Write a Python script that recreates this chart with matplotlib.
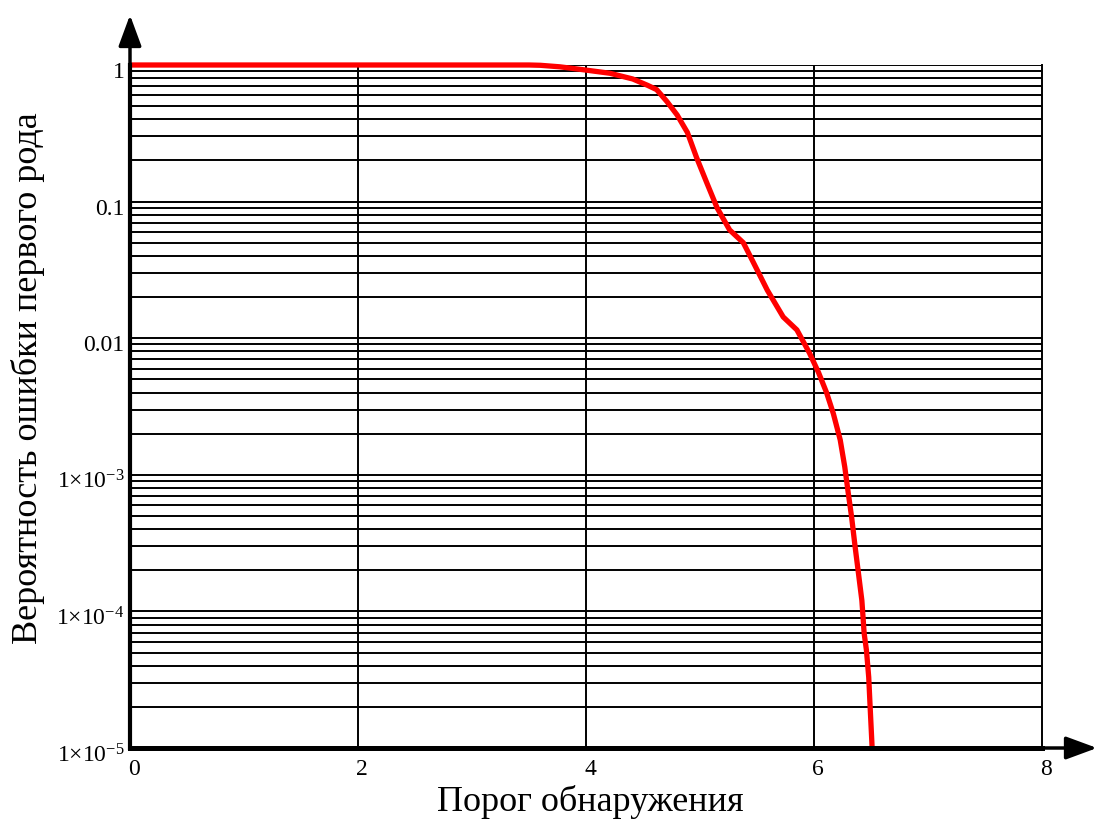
import matplotlib
matplotlib.use("Agg")
import matplotlib.pyplot as plt
from matplotlib.ticker import FixedLocator, FixedFormatter, NullFormatter
from matplotlib.transforms import ScaledTranslation

plt.rcParams['font.family'] = ['Liberation Serif', 'DejaVu Serif']
plt.rcParams['mathtext.fontset'] = 'custom'
plt.rcParams['mathtext.rm'] = 'Liberation Serif'
plt.rcParams['mathtext.it'] = 'Liberation Serif'

# Threshold vs. false-alarm probability
threshold = [0.0, 3.5, 3.6, 3.77, 3.99, 4.21, 4.41, 4.54, 4.62, 4.71, 4.80,
             4.89, 4.97, 5.06, 5.15, 5.26, 5.38, 5.46, 5.59, 5.73, 5.85, 5.96,
             6.04, 6.11, 6.17, 6.23, 6.27, 6.30, 6.33, 6.36, 6.39, 6.42, 6.44,
             6.46, 6.48, 6.49, 6.51]
p_false = [1.0, 1.0, 0.995, 0.97, 0.92, 0.87, 0.79, 0.71, 0.66, 0.54, 0.43,
           0.32, 0.21, 0.137, 0.090, 0.062, 0.050, 0.037, 0.0225, 0.0143, 0.0115,
           0.0078, 0.0056, 0.0040, 0.0028, 0.0018, 0.00114, 7.4e-4, 4.9e-4,
           3.0e-4, 1.9e-4, 1.2e-4, 6.9e-5, 5.2e-5, 3.3e-5, 2.2e-5, 1.0e-5]

xticks = [0, 2, 4, 6, 8]
xtick_labels = ['0', '2', '4', '6', '8']
yticks = [1e-5, 1e-4, 1e-3, 1e-2, 1e-1, 1]
ytick_labels = [r'$1{\times}10^{-5}$', r'$1{\times}10^{-4}$', r'$1{\times}10^{-3}$',
                '0.01', '0.1', '1']

W, H = 1099, 825
fig = plt.figure(figsize=(W / 100, H / 100), dpi=100)
ax = fig.add_axes([130 / W, 1 - 748 / H, (1042 - 130) / W, (748 - 65) / H])

ax.set_yscale('log')
ax.set_xlim(0, 8)
ax.set_ylim(1e-5, 1)

# horizontal grid at every 1..9 x 10^k
minor = [m * 10.0 ** k for k in range(-5, 0) for m in range(2, 10)]
hlines = minor + yticks[1:]
for v in hlines:
    ax.axhline(v, color='black', lw=1.4, zorder=1)
for v in xticks[1:-1]:
    ax.axvline(v, color='black', lw=1.4, zorder=1)

ax.plot(threshold, p_false, color='#ff0000', lw=3.8, zorder=3,
        solid_joinstyle='round', solid_capstyle='butt', clip_on=False)

ax.xaxis.set_major_locator(FixedLocator(xticks))
ax.xaxis.set_major_formatter(FixedFormatter(xtick_labels))
ax.yaxis.set_major_locator(FixedLocator(yticks))
ax.yaxis.set_major_formatter(FixedFormatter(ytick_labels))
ax.yaxis.set_minor_formatter(NullFormatter())
ax.tick_params(which='both', length=0, labelsize=17)
ax.tick_params(axis='x', pad=8)
ax.tick_params(axis='y', pad=4)

# nudge tick labels the way they sit beside the grid
for lbl in ax.get_yticklabels():
    lbl.set_transform(lbl.get_transform()
                      + ScaledTranslation(0, -5 / 100, fig.dpi_scale_trans))
for lbl in ax.get_xticklabels():
    lbl.set_transform(lbl.get_transform()
                      + ScaledTranslation(4 / 100, 0, fig.dpi_scale_trans))

ax.spines['top'].set_visible(False)
ax.spines['right'].set_linewidth(1.4)
ax.spines['left'].set_linewidth(3.0)
ax.spines['bottom'].set_linewidth(3.6)
ax.spines['left'].set_zorder(4)
ax.spines['bottom'].set_zorder(4)

# axis arrows
arrow = dict(arrowstyle='-|>,head_length=1.9,head_width=0.7',
             color='black', lw=2.5, shrinkA=0, shrinkB=0)
ax.annotate('', xy=(0, 1 + 50 / 683), xytext=(0, 0.99), xycoords='axes fraction',
            arrowprops=arrow)
ax.annotate('', xy=(1 + 55 / 912, 0), xytext=(0.99, 0), xycoords='axes fraction',
            arrowprops=arrow)

fig.text(590 / W, 1 - 802 / H, 'Порог обнаружения', ha='center', va='center',
         fontsize=26)
fig.text(28 / W, 1 - 378 / H, 'Вероятность ошибки первого рода', ha='center',
         va='center', rotation=90, fontsize=26)

fig.savefig('out.png', dpi=100)
